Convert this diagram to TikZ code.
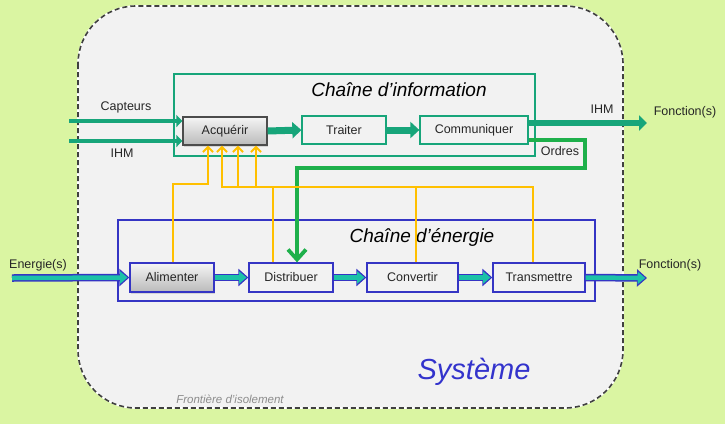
\documentclass[tikz,border=0pt]{standalone}
\usepackage{fontspec}
\setmainfont{Liberation Sans}
\usetikzlibrary{arrows.meta,calc,shadows}
\definecolor{bgg}{HTML}{DAF5A2}
\definecolor{panel}{HTML}{F2F2F2}
\definecolor{infog}{HTML}{17A57A}
\definecolor{ordg}{HTML}{1EB04B}
\definecolor{enblue}{HTML}{3535C4}
\definecolor{enteal}{HTML}{1CC2A8}
\definecolor{yel}{HTML}{FFC000}
\definecolor{sysblue}{HTML}{3333CC}
\tikzset{
  infobox/.style={draw=infog, line width=1.3pt, minimum width=84pt, minimum height=28pt, inner sep=0pt, fill=panel, font=\fontsize{12.5}{14}\selectfont, text=black!85},
  enbox/.style={draw=enblue, line width=1.3pt, minimum width=84pt, minimum height=29pt, inner sep=0pt, fill=panel, font=\fontsize{12.5}{14}\selectfont, text=black!85},
  graybox/.style={top color=white!96!black, bottom color=black!27, drop shadow={opacity=0.25,shadow xshift=1pt,shadow yshift=-1.5pt}},
  inarrow/.style={draw=infog, line width=4.5pt, -{Triangle[length=6pt,width=12pt]}},
  midarrow/.style={draw=infog, line width=7pt, -{Triangle[length=9pt,width=16pt]}},
  enarrow/.style={draw=enblue, line width=7.5pt, -{Triangle[length=10pt,width=17pt]},
    postaction={draw=enteal, line width=4.5pt, -{Triangle[length=7.5pt,width=12pt]}, shorten >=1.8pt}},
  yline/.style={draw=yel, line width=2pt, -{Straight Barb[length=5pt,width=10pt]}},
  ordline/.style={draw=ordg, line width=3.8pt, -{Straight Barb[length=10pt,width=18pt]}},
  lbl/.style={font=\fontsize{12.5}{14}\selectfont, text=black!85},
  title/.style={font=\fontsize{19}{22}\selectfont\itshape}
}
\begin{document}
\begin{tikzpicture}[x=1pt,y=-1pt]
\useasboundingbox (0,0) rectangle (725,424);
\fill[bgg] (0,0) rectangle (725,424);
% system frontier
\path[fill=panel, draw=white, line width=1.6pt, rounded corners=58pt] (78,6) rectangle (623,408);
\draw[black!75, line width=1.6pt, dash pattern=on 5pt off 3pt, rounded corners=58pt] (78,6) rectangle (623,408);
% chain frames
\draw[infog, line width=1.3pt] (174,74) rectangle (535,156);
\draw[enblue, line width=1.3pt] (118,220) rectangle (595,301);
\node[title] (tinfo) at (399,90) {Chaîne d’information};
\node[title] (tener) at (422,237) {Chaîne d’énergie};
% info nodes
\node[infobox, graybox, draw=black!70] (acq) at (225,131) {Acquérir};
\node[infobox] (trait) at (344,130) {Traiter};
\node[infobox, minimum width=108pt] (comm) at (474,130) {Communiquer};
% energy nodes
\node[enbox, graybox] (alim) at (172,277.5) {Alimenter};
\node[enbox] (dist) at (291,277.5) {Distribuer};
\node[enbox, minimum width=91pt] (conv) at (412.5,277.5) {Convertir};
\node[enbox, minimum width=92pt] (trans) at (539,277.5) {Transmettre};
% external coordinates
\coordinate (capin) at (69,121);
\coordinate (ihmin) at (69,141);
\coordinate (ihmout) at (647,123);
\coordinate (enin) at (12,278);
\coordinate (fout) at (647,278);
\coordinate (ordc) at (585,168);
% info arrows
\draw[inarrow] (capin) -- ([yshift=10pt]acq.west);
\draw[inarrow] (ihmin) -- ([yshift=-10pt]acq.west);
\draw[midarrow] (acq.east) -- (trait.west);
\draw[midarrow] (trait.east) -- (comm.west);
\draw[inarrow, line width=5.5pt, -{Triangle[length=8pt,width=15pt]}] ([yshift=7pt]comm.east) -- (ihmout);
% orders
\draw[ordline] ([yshift=-10pt]comm.east) -| (ordc) -| ([xshift=6pt]dist.north);
% energy arrows
\draw[enarrow] (enin) -- (alim.west);
\draw[enarrow] (alim.east) -- (dist.west);
\draw[enarrow] (dist.east) -- (conv.west);
\draw[enarrow] (conv.east) -- (trans.west);
\draw[enarrow] (trans.east) -- (fout);
% yellow feedback lines
\draw[yline] ([xshift=1pt]alim.north) |- ($(acq.south)+(-17,38)$) -- ($(acq.south)+(-17,0)$);
\draw[yline] ([xshift=-6pt]trans.north) |- ($(acq.south)+(-3,41)$) -- ($(acq.south)+(-3,0)$);
\draw[yline] ([xshift=3.5pt]conv.north) |- ($(acq.south)+(13,41)$) -- ($(acq.south)+(13,0)$);
\draw[yline] ([xshift=-18pt]dist.north) |- ($(acq.south)+(31,41)$) -- ($(acq.south)+(31,0)$);
% labels
\node[lbl] (lcap) at (126,107) {Capteurs};
\node[lbl] (lihm) at (122,153) {IHM};
\node[lbl] (lihm2) at (602,109) {IHM};
\node[lbl] (lf1) at (685,112) {Fonction(s)};
\node[lbl] (lord) at (560,151) {Ordres};
\node[lbl] (len) at (38,265) {Energie(s)};
\node[lbl] (lf2) at (670,265) {Fonction(s)};
\node[font=\fontsize{29}{32}\selectfont\itshape, text=sysblue] (sys) at (474,372) {Système};
\node[font=\fontsize{11.5}{13}\selectfont\itshape, text=black!45] (front) at (230,399) {Frontière d’isolement};
\end{tikzpicture}
\end{document}
